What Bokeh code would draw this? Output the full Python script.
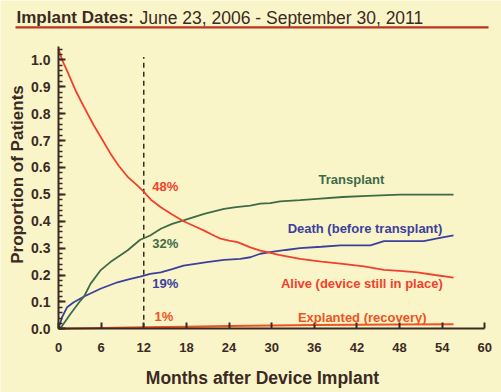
import math
from bokeh.plotting import figure
from bokeh.models import Label, BoxAnnotation, LinearAxis, SingleIntervalTicker, Range1d, NumeralTickFormatter
from bokeh.embed import file_html
from bokeh.resources import INLINE

# ---- data ----
alive_t = [0, 0.5, 1.2, 2.4, 3.6, 5, 5.9, 7.3, 8.5, 9.7, 11, 12, 13, 14.4, 16, 17.6, 19, 20.5, 22, 22.8,
           24, 25.2, 27, 28.4, 29.4, 31, 34, 37, 39.7, 43, 45.8, 48, 50.5, 53, 55.6]
alive_v = [1.04, 1.0, 0.96, 0.886, 0.824, 0.755, 0.715, 0.652, 0.605, 0.566, 0.535, 0.51, 0.48, 0.452, 0.425,
           0.40, 0.383, 0.365, 0.345, 0.335, 0.328, 0.322, 0.303, 0.291, 0.285, 0.275, 0.26, 0.25, 0.242,
           0.232, 0.219, 0.215, 0.21, 0.2, 0.19]

transplant_t = [0, 0.5, 1.7, 3.1, 3.6, 4.5, 5.9, 7.3, 8.5, 9.7, 11.5, 12.9, 14.4, 16, 17.6, 20.5, 23.3, 25,
                27, 28.4, 29.8, 31.2, 34, 36.4, 40, 43.5, 48.1, 52, 55.6]
transplant_v = [0, 0.01, 0.056, 0.105, 0.12, 0.167, 0.217, 0.248, 0.27, 0.291, 0.331, 0.347, 0.372, 0.39,
                0.403, 0.427, 0.446, 0.452, 0.458, 0.465, 0.467, 0.474, 0.478, 0.483, 0.49, 0.494, 0.499,
                0.499, 0.499]

death_t = [0, 0.5, 1.2, 2.15, 3.6, 5.9, 8.3, 10, 11.5, 12.9, 14.4, 16, 17.6, 20.9, 23.3, 25.6, 27, 28.4,
           29.8, 32, 34, 37, 39.7, 43.9, 45.8, 48, 51.4, 53.5, 55.6]
death_v = [0, 0.043, 0.08, 0.099, 0.12, 0.149, 0.173, 0.185, 0.194, 0.204, 0.21, 0.222, 0.235, 0.248, 0.256,
           0.26, 0.266, 0.279, 0.285, 0.293, 0.30, 0.305, 0.31, 0.31, 0.326, 0.326, 0.326, 0.337, 0.347]

explant_t = [0, 6, 12, 18, 24, 30, 36, 42, 48, 55.6]
explant_v = [0, 0.003, 0.006, 0.008, 0.01, 0.012, 0.014, 0.015, 0.016, 0.017]

landmark_month = 12
landmark_top = 1.01
landmark_labels = ["48%", "32%", "19%", "1%"]

x_axis_span = (0, 60)
y_axis_span = (0, 1.05)
x_ticks_interval = 6
y_ticks_interval = 0.1

# ---- colours ----
BG = "#f9f5c9"
INK = "#3b2a24"
RED = "#f2402c"
GREEN = "#3e6b46"
BLUE = "#3c409c"
ORANGE = "#ee5322"
RULE = "#b8341f"
FONT = "Liberation Sans"

# ---- layout: the frame fills the canvas, axes sit at fixed data positions ----
W, H = 501, 392
OX, OY = 58.0, 328.3      # pixel of the data origin
XS, YS = 7.105, 269.0     # pixels per month / per unit of proportion

p = figure(width=W, height=H, output_backend="svg", toolbar_location=None,
           x_range=Range1d(-OX / XS, (W - OX) / XS),
           y_range=Range1d((OY - H) / YS, OY / YS),
           x_axis_location=None, y_axis_location=None,
           min_border=0, background_fill_color=BG, border_fill_color=BG, outline_line_color=None)
p.grid.visible = False

def X(px):
    return (px - OX) / XS
def Y(py):
    return (OY - py) / YS

xaxis = LinearAxis(fixed_location=0, bounds=x_axis_span,
                   ticker=SingleIntervalTicker(interval=x_ticks_interval, num_minor_ticks=0))
yaxis = LinearAxis(fixed_location=0, bounds=y_axis_span,
                   ticker=SingleIntervalTicker(interval=y_ticks_interval, num_minor_ticks=5),
                   formatter=NumeralTickFormatter(format="0.0"))
for ax in (xaxis, yaxis):
    ax.axis_line_color = INK
    ax.axis_line_width = 2
    ax.major_tick_line_color = INK
    ax.major_tick_line_width = 2
    ax.major_tick_out = 0
    ax.minor_tick_out = 0
    ax.major_label_text_font = FONT
    ax.major_label_text_font_style = "bold"
    ax.major_label_text_color = INK
xaxis.major_label_text_font_size = "13px"
yaxis.major_label_text_font_size = "14px"
xaxis.major_tick_in = 6
xaxis.minor_tick_line_color = None
xaxis.major_label_standoff = 14
yaxis.major_tick_in = 7
yaxis.minor_tick_in = 4
yaxis.minor_tick_line_color = INK
yaxis.minor_tick_line_width = 1.5
yaxis.major_label_standoff = 8
p.add_layout(xaxis, "below")
p.add_layout(yaxis, "left")

# landmark dashed line
p.segment(x0=[landmark_month], y0=[0], x1=[landmark_month], y1=[landmark_top],
          line_color=INK, line_width=1.5, line_dash="5 4")

# curves
p.line(explant_t, explant_v, line_color=ORANGE, line_width=2)
p.line(death_t, death_v, line_color=BLUE, line_width=1.8)
p.line(transplant_t, transplant_v, line_color=GREEN, line_width=1.8)
p.line(alive_t, alive_v, line_color=RED, line_width=1.8)

def lab(x, y, text, color, size="13px", style="bold", baseline="middle", align="left", angle=0):
    p.add_layout(Label(x=x, y=y, text=text, text_color=color, text_font=FONT,
                       text_font_size=size, text_font_style=style, text_baseline=baseline,
                       text_align=align, angle=angle))

# axis titles
lab(X(262), Y(377), "Months after Device Implant", INK, size="17.5px", align="center")
lab(X(16.5), Y(174), "Proportion of Patients", INK, size="17px", align="center", angle=math.pi / 2)

# percent labels near landmark
lab(13.2, 0.529, landmark_labels[0], RED)
lab(13.2, 0.318, landmark_labels[1], GREEN)
lab(13.2, 0.170, landmark_labels[2], BLUE)
lab(13.5, 0.047, landmark_labels[3], ORANGE)

# series labels
lab(36.6, 0.555, "Transplant", GREEN)
lab(32.25, 0.373, "Death (before transplant)", BLUE)
lab(31.3, 0.168, "Alive (device still in place)", RED)
lab(33.7, 0.043, "Explanted (recovery)", ORANGE)

# header
lab(X(16), Y(17), "Implant Dates:", INK, size="17px", baseline="alphabetic")
lab(X(139), Y(17), "June 23, 2006 -  September 30, 2011", INK, size="17.5px", style="normal",
    baseline="alphabetic")
p.add_layout(BoxAnnotation(left=X(15), right=X(488), top=Y(25.8), bottom=Y(28),
                           fill_color=RULE, fill_alpha=1, line_color=None))

open("out.html", "w").write(file_html(p, INLINE))
